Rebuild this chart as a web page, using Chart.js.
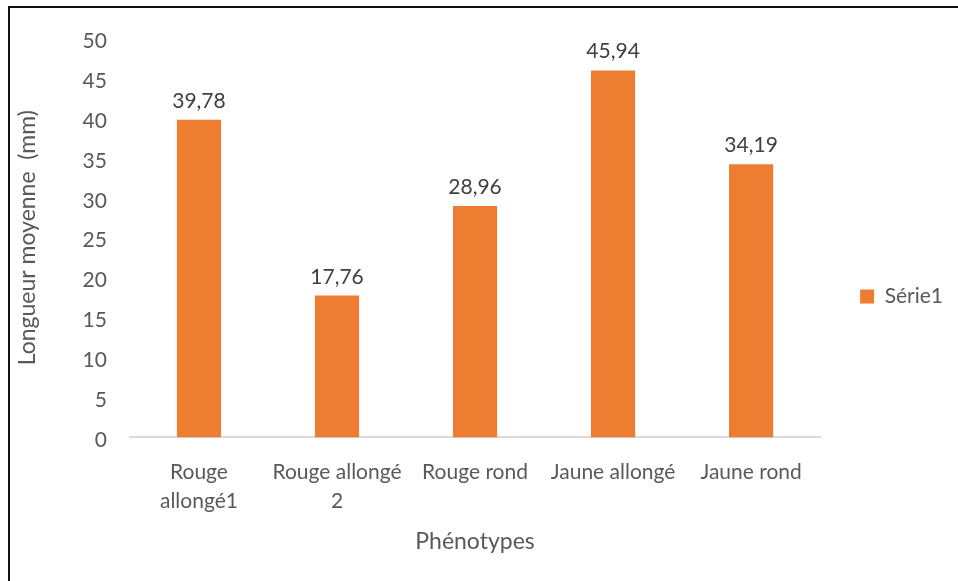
<!DOCTYPE html>
<html>
<head>
<meta charset="utf-8">
<script src="https://cdn.jsdelivr.net/npm/chart.js@4/dist/chart.umd.min.js"></script>
<style>
  html, body { margin: 0; padding: 0; background: #fff; overflow: hidden; }
  #wrap { position: relative; width: 958px; height: 581px; overflow: hidden; }
  #frame {
    position: absolute; left: 8px; top: 6px; width: 980px; height: 600px;
    box-sizing: border-box; border-top: 2px solid #111; border-left: 2px solid #111;
    pointer-events: none;
  }
</style>
</head>
<body>
<div id="wrap">
  <canvas id="lengthChart" width="958" height="581"></canvas>
  <div id="frame"></div>
</div>
<script>
// Phenotype categories (multi-line labels as in the reference)
const phenotypes = [
    ['Rouge', 'allongé1'],
    ['Rouge allongé', '2'],
    'Rouge rond',
    'Jaune allongé',
    'Jaune rond'
];

// Mean length (mm)
const meanLength = [39.78, 17.76, 28.96, 45.94, 34.19];

const seriesName = 'Série1';
const yTicks = { min: 0, max: 50, step: 5 };

const textColor = '#595959';
const fontFamily = 'Lato, "Open Sans", sans-serif';

// Draws the value above each bar, French decimal comma
const valueLabels = {
    id: 'valueLabels',
    afterDatasetsDraw(chart) {
        const ctx = chart.ctx;
        const meta = chart.getDatasetMeta(0);
        ctx.save();
        ctx.font = '21px ' + fontFamily;
        ctx.fillStyle = '#404040';
        ctx.textAlign = 'center';
        ctx.textBaseline = 'alphabetic';
        meta.data.forEach((bar, i) => {
            const txt = meanLength[i].toFixed(2).replace('.', ',');
            ctx.fillText(txt, bar.x, bar.y - 12);
        });
        ctx.restore();
    }
};

new Chart(document.getElementById('lengthChart'), {
    type: 'bar',
    data: {
        labels: phenotypes,
        datasets: [{
            label: seriesName,
            data: meanLength,
            backgroundColor: '#ED7D31',
            borderWidth: 0,
            barPercentage: 1,
            categoryPercentage: 0.32
        }]
    },
    options: {
        responsive: false,
        animation: false,
        maintainAspectRatio: false,
        layout: {
            padding: { left: 10, right: 5, top: 38, bottom: 26 }
        },
        plugins: {
            legend: {
                display: true,
                position: 'right',
                labels: {
                    boxWidth: 14,
                    boxHeight: 14,
                    padding: 40,
                    color: textColor,
                    font: { family: fontFamily, size: 21 }
                }
            },
            tooltip: { enabled: false }
        },
        scales: {
            x: {
                grid: { display: false, drawTicks: false },
                border: { display: true, color: '#D9D9D9', width: 2 },
                ticks: {
                    color: textColor,
                    padding: 20,
                    maxRotation: 0,
                    autoSkip: false,
                    font: { family: fontFamily, size: 21, lineHeight: 1.38 }
                },
                title: {
                    display: true,
                    text: 'Phénotypes',
                    color: textColor,
                    padding: { top: -8, bottom: 0 },
                    font: { family: fontFamily, size: 23 }
                }
            },
            y: {
                min: yTicks.min,
                max: yTicks.max,
                grid: { display: false, drawTicks: false },
                border: { display: false },
                ticks: {
                    stepSize: yTicks.step,
                    color: textColor,
                    padding: 23,
                    labelOffset: 3,
                    font: { family: fontFamily, size: 21 }
                },
                title: {
                    display: true,
                    text: 'Longueur moyenne  (mm)',
                    color: textColor,
                    padding: { top: 4, bottom: 18 },
                    font: { family: fontFamily, size: 23 }
                }
            }
        }
    },
    plugins: [valueLabels]
});
</script>
</body>
</html>
